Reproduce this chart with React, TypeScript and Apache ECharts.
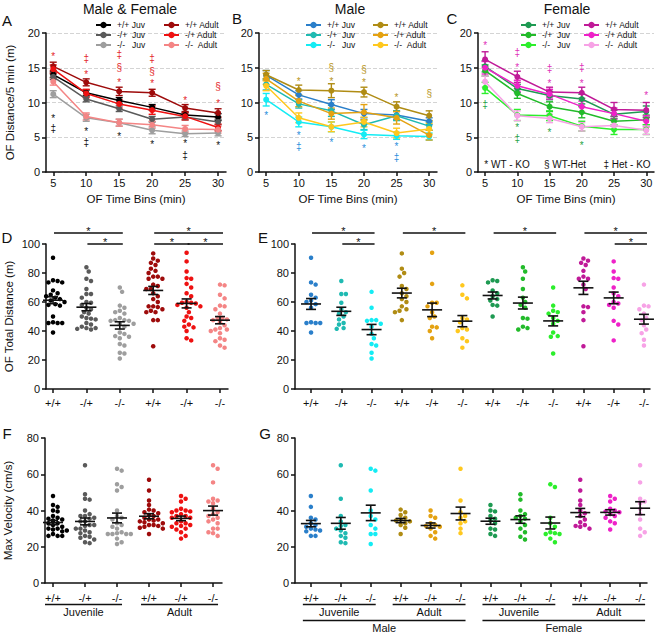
import React, { useEffect, useRef } from 'react';
import * as echarts from 'echarts';

const FONT = '"Liberation Sans", Arial, Helvetica, sans-serif';
const INK = '#111111';
const NB = '\u00a0';

// ---------- categories / labels ----------
const TIMES = [5, 10, 15, 20, 25, 30];
const GENOTYPES = ['+/+', '-/+', '-/-'];
const SYMBOLS = ['*', '§', '‡'];
const LINE_LABELS = ['+/+ Juv', `-/+${NB}${NB}Juv`, `-/-${NB}${NB}${NB}Juv`, '+/+ Adult', '-/+ Adult', `-/-${NB}${NB}Adult`];
const F_GROUP_LABELS = ['Juvenile', 'Adult'];
const G_GROUP_LABELS = ['Juvenile', 'Adult', 'Juvenile', 'Adult', 'Male', 'Female'];

// ---------- colours ----------
const COLORS_ALL = ['#000000', '#5a5a5a', '#9e9e9e', '#9e0b0b', '#ee1111', '#f48585'];
const COLORS_MALE = ['#2a7fca', '#1fbab2', '#14ecf4', '#b08c14', '#e4a212', '#ffc81e'];
const COLORS_FEMALE = ['#1e9a52', '#22bb2a', '#2cee2c', '#c01a98', '#ee22c8', '#f7a2e6'];

// ---------- panel A/B/C: distance per 5-min bin (mean, SEM) ----------
const A_MEANS = [
  [14.0, 11.4, 10.3, 9.3, 8.2, 7.9],
  [13.7, 10.5, 9.1, 7.6, 7.9, 7.2],
  [11.2, 7.8, 7.1, 6.0, 5.5, 5.6],
  [15.2, 12.9, 11.6, 11.4, 9.2, 8.5],
  [14.8, 11.3, 9.8, 8.9, 8.0, 6.4],
  [13.0, 8.0, 7.1, 6.8, 6.2, 6.1],
];
const A_SEMS = [
  [0.4, 0.4, 0.4, 0.4, 0.4, 0.5],
  [0.4, 0.4, 0.4, 0.4, 0.4, 0.4],
  [0.5, 0.5, 0.5, 0.5, 0.4, 0.4],
  [0.6, 0.5, 0.6, 0.5, 0.5, 0.6],
  [0.6, 0.6, 0.6, 0.6, 0.5, 0.5],
  [0.5, 0.5, 0.5, 0.5, 0.5, 0.5],
];
const B_MEANS = [
  [13.9, 11.1, 9.7, 8.4, 8.2, 7.3],
  [12.6, 9.8, 8.8, 6.8, 8.1, 6.6],
  [10.4, 7.2, 6.5, 5.4, 5.2, 5.1],
  [14.0, 11.8, 11.7, 11.5, 9.4, 8.1],
  [13.4, 10.2, 8.4, 8.6, 7.8, 5.3],
  [12.4, 7.8, 6.5, 7.2, 5.6, 6.2],
];
const B_SEMS = [
  [0.7, 0.6, 0.7, 0.6, 0.6, 0.5],
  [0.8, 0.6, 0.8, 0.7, 0.7, 0.6],
  [0.9, 0.7, 0.7, 0.6, 0.5, 0.5],
  [0.6, 0.7, 1.0, 0.7, 0.7, 0.7],
  [0.8, 0.8, 0.8, 1.1, 0.9, 0.7],
  [0.7, 0.7, 0.7, 0.7, 0.7, 0.8],
];
const C_MEANS = [
  [15.2, 12.0, 11.0, 10.5, 8.3, 8.7],
  [14.6, 11.3, 9.4, 8.6, 7.3, 7.5],
  [12.1, 8.2, 8.1, 6.6, 6.1, 6.1],
  [16.2, 13.7, 11.5, 11.4, 9.0, 8.9],
  [15.0, 12.4, 11.2, 9.4, 8.4, 7.3],
  [13.0, 8.1, 7.7, 6.5, 6.7, 6.0],
];
const C_SEMS = [
  [0.8, 0.6, 0.6, 0.7, 0.6, 0.8],
  [0.8, 0.7, 0.7, 0.8, 0.7, 0.7],
  [0.8, 0.8, 0.7, 0.7, 0.7, 0.7],
  [1.1, 0.8, 0.7, 0.8, 1.0, 1.1],
  [0.9, 0.8, 0.7, 0.8, 0.8, 0.8],
  [0.8, 0.7, 0.6, 0.6, 0.6, 0.6],
];

// significance marks: [time, y, symbolIndex]
const A_MARKS_UP = [[5, 17.1, 0], [10, 16.3, 2], [10, 14.5, 0], [15, 16.9, 2], [15, 15.0, 1], [15, 13.3, 0], [20, 16.4, 2], [20, 14.5, 1], [20, 13.1, 0], [25, 10.7, 0], [30, 12.3, 1], [30, 10.3, 0]];
const A_MARKS_DOWN = [[5, 8.1, 0], [5, 6.3, 2], [10, 6.3, 0], [10, 4.2, 2], [15, 5.5, 0], [20, 4.4, 0], [25, 4.5, 0], [25, 2.4, 2], [30, 4.2, 0]];
const B_MARKS_UP = [[10, 13.4, 0], [15, 15.0, 1], [15, 13.5, 0], [20, 14.8, 1], [20, 13.3, 0], [25, 11.2, 0], [30, 11.3, 1]];
const B_MARKS_DOWN = [[5, 8.6, 0], [10, 5.7, 0], [10, 3.7, 2], [15, 4.7, 0], [20, 3.8, 0], [25, 4.1, 0], [25, 2.1, 2]];
const C_MARKS_UP = [[5, 18.6, 0], [10, 17.2, 2], [10, 15.5, 0], [15, 14.9, 2], [15, 13.1, 0], [20, 15.0, 2], [20, 13.2, 0], [30, 11.4, 0]];
const C_MARKS_DOWN = [[5, 9.7, 2], [10, 6.8, 0], [10, 4.8, 2], [15, 6.1, 0], [20, 4.3, 0]];

// ---------- panel E (and D = male ∪ female): total distance per animal ----------
const DIST_MALE = [
  [90.5, 73.5, 72, 65, 63, 61, 60, 58.5, 56, 46, 45.5, 45.5, 45.5, 39],
  [74.5, 65.5, 65.5, 59.5, 55, 53, 52, 50, 48, 45.5, 44.5, 42, 41.5],
  [67, 56, 47.5, 47.5, 47, 45, 43, 38, 35, 31, 30, 25, 21],
  [93.5, 83, 80, 77.5, 71, 69, 66, 64, 62, 60, 57, 55, 54, 53, 47.5],
  [94, 72.5, 59.5, 59.5, 57, 53, 50, 49, 43, 42.5, 40, 35],
  [71.5, 65, 62.5, 49, 48, 46, 42, 41, 40, 35, 33, 28.5],
];
const DIST_FEMALE = [
  [75, 74.5, 73.5, 68, 66, 64, 62, 61, 58, 57.5, 50],
  [84, 81, 76, 69, 63, 60, 58, 56, 49, 48.5, 43, 42, 41],
  [70, 57.5, 54, 53, 52, 49, 47, 45, 39, 36.5, 36, 24.5],
  [90, 88.5, 87, 85.5, 81.5, 77.5, 76, 76, 72, 69, 57, 56.5, 53, 47.5, 29.5],
  [88, 81, 76.5, 76, 70, 66, 64, 60, 59, 58, 56, 47, 44.5, 33.5],
  [72, 57.5, 57, 55, 52, 49, 47.5, 44, 41, 38.5, 34, 30],
];

// ---------- panel G (and F = male ∪ female): max velocity per animal ----------
const VEL_MALE = [
  [48, 42, 36, 35, 33, 32, 31, 30, 29.5, 29, 28.5, 26, 26],
  [65, 46.5, 37, 34, 32, 31.5, 30, 29, 27.5, 26, 25, 22.5, 22],
  [63, 62, 51, 40, 37, 35, 32, 30, 27, 27, 21.5],
  [40.5, 39, 37.5, 36, 35, 34.5, 34, 33, 32, 30.5, 27],
  [40, 37, 36, 33, 32, 31.5, 31, 30, 28, 26, 24.5],
  [63, 45.5, 39, 37, 36, 34, 33, 30, 27.5],
];
const VEL_FEMALE = [
  [43, 40, 39.5, 37, 35.5, 34.5, 33, 30, 29.5, 27, 26],
  [49, 46, 40, 38, 37, 36, 35.5, 34, 32, 30, 28, 25.5, 24],
  [54.5, 53, 36, 33, 31, 28, 27.5, 27, 27, 24.5, 22.5],
  [57, 51, 45.5, 43, 40, 38.5, 37, 35, 33.5, 32, 31.5, 31, 30],
  [48, 46.5, 45, 41, 40, 39.5, 39, 38, 37, 36, 34, 33, 29.5],
  [65, 55.5, 46.5, 45, 44, 41, 38, 35, 30, 28, 26],
];

// comparisons: [groupFrom, groupTo, level(0 = upper, 1 = lower)]
const D_BRACKETS = [[0, 2, 0], [1, 2, 1], [3, 5, 0], [3, 4, 1], [4, 5, 1]];
const E_BRACKETS = [[0, 2, 0], [1, 2, 1], [3, 5, 0], [6, 8, 0], [9, 11, 0], [10, 11, 1]];
// group underlines: [groupFrom, groupTo, row]
const F_GROUPS = [[0, 2, 0], [3, 5, 0]];
const G_GROUPS = [[0, 2, 0], [3, 5, 0], [6, 8, 0], [9, 11, 0], [0, 5, 1], [6, 11, 1]];

// ---------- helpers ----------
function meanSem(vals: number[]) {
  const n = vals.length;
  const m = vals.reduce((a, b) => a + b, 0) / n;
  const v = vals.reduce((a, b) => a + (b - m) * (b - m), 0) / (n - 1);
  return [m, Math.sqrt(v / n)];
}

// deterministic beeswarm: returns x offsets in category units
function swarm(vals: number[], pxX: number, pxY: number, d: number): number[] {
  const idx = vals.map((_, i) => i).sort((a, b) => vals[b] - vals[a]);
  const placed: number[][] = [];
  const offs = new Array(vals.length).fill(0);
  for (const i of idx) {
    const py = vals[i] * pxY;
    let chosen = 0;
    for (let k = 0; k < 60; k++) {
      const cand = k === 0 ? 0 : (k % 2 === 1 ? 1 : -1) * Math.ceil(k / 2) * d * 0.5;
      let ok = true;
      for (const p of placed) {
        const dx = p[0] - cand;
        const dy = p[1] - py;
        if (dx * dx + dy * dy < d * d * 0.92) { ok = false; break; }
      }
      if (ok) { chosen = cand; break; }
    }
    placed.push([chosen, py]);
    offs[i] = chosen / pxX;
  }
  return offs;
}

const axisLineStyle = { color: INK, width: 1.5 };

function timeXAxis(gi: number) {
  return {
    type: 'value', gridIndex: gi, min: 3.9, max: 31.2,
    axisLine: { show: true, onZero: false, lineStyle: axisLineStyle },
    axisTick: { show: true, customValues: TIMES, length: 4, lineStyle: axisLineStyle },
    axisLabel: { customValues: TIMES, fontSize: 11, color: INK, margin: 5, fontFamily: FONT },
    splitLine: { show: false },
    name: 'OF Time Bins (min)', nameLocation: 'middle', nameGap: 21,
    nameTextStyle: { fontSize: 11.5, color: INK, fontFamily: FONT },
  };
}
function distYAxis(gi: number, name?: string) {
  return {
    type: 'value', gridIndex: gi, min: 0, max: 20, interval: 5,
    axisLine: { show: true, onZero: false, lineStyle: axisLineStyle },
    axisTick: { show: true, length: 4, lineStyle: axisLineStyle },
    axisLabel: { fontSize: 11, color: INK, margin: 6, fontFamily: FONT },
    splitLine: { show: true, lineStyle: { type: 'dashed', color: '#d4d4d4', width: 1 } },
    name: name || '', nameLocation: 'middle', nameGap: 30,
    nameTextStyle: { fontSize: 11.5, color: INK, fontFamily: FONT },
  };
}
function groupXAxis(gi: number, min: number, max: number, n: number, margin: number) {
  const vals = Array.from({ length: n }, (_, i) => i);
  return {
    type: 'value', gridIndex: gi, min, max,
    axisLine: { show: true, onZero: false, lineStyle: axisLineStyle },
    axisTick: { show: true, customValues: vals, length: 4, lineStyle: axisLineStyle },
    axisLabel: {
      customValues: vals, fontSize: 11, color: INK, margin, fontFamily: FONT,
      formatter: (v: number) => GENOTYPES[Math.round(v) % 3],
    },
    splitLine: { show: false },
  };
}
function groupYAxis(gi: number, max: number, name?: string) {
  return {
    type: 'value', gridIndex: gi, min: 0, max, interval: 20,
    axisLine: { show: true, onZero: false, lineStyle: axisLineStyle },
    axisTick: { show: true, length: 4, lineStyle: axisLineStyle },
    axisLabel: { fontSize: 11, color: INK, margin: 6, fontFamily: FONT },
    splitLine: { show: false },
    name: name || '', nameLocation: 'middle', nameGap: 31,
    nameTextStyle: { fontSize: 11.5, color: INK, fontFamily: FONT },
  };
}

function errRender(color: string) {
  return (_p: any, api: any) => {
    const x = api.value(0), m = api.value(1), s = api.value(2);
    const t = api.coord([x, m + s]);
    const b = api.coord([x, m - s]);
    const style = { stroke: color, lineWidth: 1.4 };
    const cw = 3.5;
    return {
      type: 'group', children: [
        { type: 'line', shape: { x1: t[0], y1: t[1], x2: b[0], y2: b[1] }, style },
        { type: 'line', shape: { x1: t[0] - cw, y1: t[1], x2: t[0] + cw, y2: t[1] }, style },
        { type: 'line', shape: { x1: b[0] - cw, y1: b[1], x2: b[0] + cw, y2: b[1] }, style },
      ],
    };
  };
}
function markRender(color: string) {
  return (_p: any, api: any) => {
    const k = api.value(2);
    const p = api.coord([api.value(0), api.value(1)]);
    return {
      type: 'text', x: p[0], y: p[1] + (k === 0 ? 3 : 0),
      style: { text: SYMBOLS[k], fill: color, fontSize: 10, fontFamily: FONT, align: 'center', verticalAlign: 'middle' },
    };
  };
}
const meanRender = (_p: any, api: any) => {
  const i = api.value(0), m = api.value(1), s = api.value(2);
  const c = api.coord([i, m]);
  const t = api.coord([i, m + s]);
  const b = api.coord([i, m - s]);
  const style = { stroke: INK, lineWidth: 1.6 };
  const hw = 10, cw = 5;
  return {
    type: 'group', children: [
      { type: 'line', shape: { x1: c[0] - hw, y1: c[1], x2: c[0] + hw, y2: c[1] }, style },
      { type: 'line', shape: { x1: t[0], y1: t[1], x2: b[0], y2: b[1] }, style },
      { type: 'line', shape: { x1: t[0] - cw, y1: t[1], x2: t[0] + cw, y2: t[1] }, style },
      { type: 'line', shape: { x1: b[0] - cw, y1: b[1], x2: b[0] + cw, y2: b[1] }, style },
    ],
  };
};
const bracketRender = (_p: any, api: any) => {
  const a = api.value(0), b = api.value(1), lvl = api.value(2);
  const pa = api.coord([a, 100]);
  const pb = api.coord([b, 100]);
  const y = pa[1] - (lvl === 0 ? 11 : 0);
  const x1 = pa[0] + 1, x2 = pb[0] + 3;
  return {
    type: 'group', children: [
      { type: 'line', shape: { x1, y1: y, x2, y2: y }, style: { stroke: INK, lineWidth: 1.5 } },
      { type: 'text', x: (x1 + x2) / 2, y: y - 2, style: { text: '*', fill: INK, fontSize: 11, fontFamily: FONT, align: 'center', verticalAlign: 'middle' } },
    ],
  };
};
function groupRender(labels: string[]) {
  return (p: any, api: any) => {
    const a = api.value(0), b = api.value(1), row = api.value(2);
    const pa = api.coord([a, 0]);
    const pb = api.coord([b, 0]);
    const ly = pa[1] + 21.5 + row * 16;
    const x1 = pa[0] - 8, x2 = pb[0] + 5;
    return {
      type: 'group', children: [
        { type: 'line', shape: { x1, y1: ly, x2, y2: ly }, style: { stroke: INK, lineWidth: 1.5 } },
        { type: 'text', x: (x1 + x2) / 2, y: ly + 7, style: { text: labels[p.dataIndex], fill: INK, fontSize: 11, fontFamily: FONT, align: 'center', verticalAlign: 'middle' } },
      ],
    };
  };
}

function buildOption() {
  const series: any[] = [];
  const legends: any[] = [];

  const linePanels = [
    { key: 'A', gi: 0, means: A_MEANS, sems: A_SEMS, colors: COLORS_ALL, marks: [{ c: '#e4262a', d: A_MARKS_UP }, { c: INK, d: A_MARKS_DOWN }], lx: [95, 163] },
    { key: 'B', gi: 1, means: B_MEANS, sems: B_SEMS, colors: COLORS_MALE, marks: [{ c: '#b8961e', d: B_MARKS_UP }, { c: '#2a8fdc', d: B_MARKS_DOWN }], lx: [305, 372] },
    { key: 'C', gi: 2, means: C_MEANS, sems: C_SEMS, colors: COLORS_FEMALE, marks: [{ c: '#e030b8', d: C_MARKS_UP }, { c: '#26a348', d: C_MARKS_DOWN }], lx: [520, 583] },
  ];
  linePanels.forEach((P) => {
    P.means.forEach((row, s) => {
      series.push({
        type: 'custom', name: `${P.key}|err${s}`, xAxisIndex: P.gi, yAxisIndex: P.gi, silent: true, clip: false,
        data: TIMES.map((t, k) => [t, row[k], P.sems[s][k]]), renderItem: errRender(P.colors[s]), z: 2,
      });
      series.push({
        type: 'line', name: `${P.key}|${LINE_LABELS[s]}`, xAxisIndex: P.gi, yAxisIndex: P.gi,
        data: TIMES.map((t, k) => [t, row[k]]), symbol: 'circle', symbolSize: 6, showSymbol: true,
        lineStyle: { width: 1.5, color: P.colors[s] }, itemStyle: { color: P.colors[s] }, color: P.colors[s], z: 3,
      });
    });
    P.marks.forEach((m) => {
      series.push({
        type: 'custom', name: `${P.key}|marks`, xAxisIndex: P.gi, yAxisIndex: P.gi, silent: true, clip: false,
        data: m.d, renderItem: markRender(m.c), z: 4,
      });
    });
    [0, 1].forEach((col) => {
      legends.push({
        orient: 'vertical', left: P.lx[col], top: 20, padding: 0, itemGap: 0, itemWidth: 15, itemHeight: 8,
        selectedMode: false,
        data: [0, 1, 2].map((r) => `${P.key}|${LINE_LABELS[col * 3 + r]}`),
        formatter: (n: string) => n.split('|')[1],
        textStyle: { fontSize: 8.5, lineHeight: 10, color: INK, fontFamily: FONT, padding: [0, 0, 0, 1] },
      });
    });
  });

  const E_GROUPS = [...DIST_MALE, ...DIST_FEMALE];
  const D_GROUPS = DIST_MALE.map((a, i) => a.concat(DIST_FEMALE[i]));
  const G_VALS = [...VEL_MALE, ...VEL_FEMALE];
  const F_VALS = VEL_MALE.map((a, i) => a.concat(VEL_FEMALE[i]));
  const SEX_COLORS = [...COLORS_MALE, ...COLORS_FEMALE];

  const scatterPanels = [
    { key: 'D', gi: 3, groups: D_GROUPS, colors: COLORS_ALL, pxX: 33.4, pxY: 1.45 },
    { key: 'E', gi: 4, groups: E_GROUPS, colors: SEX_COLORS, pxX: 30.3, pxY: 1.45 },
    { key: 'F', gi: 5, groups: F_VALS, colors: COLORS_ALL, pxX: 32, pxY: 1.81 },
    { key: 'G', gi: 6, groups: G_VALS, colors: SEX_COLORS, pxX: 29.9, pxY: 1.81 },
  ];
  scatterPanels.forEach((P) => {
    P.groups.forEach((vals, g) => {
      const offs = swarm(vals, P.pxX, P.pxY, 4.6);
      series.push({
        type: 'scatter', name: `${P.key}|pts${g}`, xAxisIndex: P.gi, yAxisIndex: P.gi, silent: true,
        data: vals.map((v, i) => [g + offs[i], v]), symbol: 'circle', symbolSize: 4.5,
        itemStyle: { color: P.colors[g], opacity: 1 }, z: 2,
      });
    });
    series.push({
      type: 'custom', name: `${P.key}|mean`, xAxisIndex: P.gi, yAxisIndex: P.gi, silent: true, clip: false,
      data: P.groups.map((vals, g) => { const ms = meanSem(vals); return [g, ms[0], ms[1]]; }),
      renderItem: meanRender, z: 5,
    });
  });

  series.push({ type: 'custom', name: 'D|br', xAxisIndex: 3, yAxisIndex: 3, silent: true, clip: false, data: D_BRACKETS, renderItem: bracketRender, z: 5 });
  series.push({ type: 'custom', name: 'E|br', xAxisIndex: 4, yAxisIndex: 4, silent: true, clip: false, data: E_BRACKETS, renderItem: bracketRender, z: 5 });
  series.push({ type: 'custom', name: 'F|grp', xAxisIndex: 5, yAxisIndex: 5, silent: true, clip: false, data: F_GROUPS, renderItem: groupRender(F_GROUP_LABELS), z: 5 });
  series.push({ type: 'custom', name: 'G|grp', xAxisIndex: 6, yAxisIndex: 6, silent: true, clip: false, data: G_GROUPS, renderItem: groupRender(G_GROUP_LABELS), z: 5 });

  const txt = (text: string, x: number, y: number, size: number, align = 'center') => ({
    type: 'text', x, y, silent: true,
    style: { text, fill: INK, fontSize: size, fontFamily: FONT, align, verticalAlign: 'middle' },
  });

  return {
    animation: false,
    backgroundColor: '#ffffff',
    textStyle: { fontFamily: FONT },
    grid: [
      { left: 46, top: 33, width: 180, height: 139 },
      { left: 259, top: 33, width: 178, height: 139 },
      { left: 478, top: 33, width: 176, height: 139 },
      { left: 46, top: 244, width: 182, height: 145 },
      { left: 295, top: 244, width: 355, height: 145 },
      { left: 45, top: 438, width: 177, height: 145 },
      { left: 295, top: 438, width: 352, height: 145 },
    ],
    xAxis: [
      timeXAxis(0), timeXAxis(1), timeXAxis(2),
      groupXAxis(3, -0.21, 5.24, 6, 8),
      groupXAxis(4, -0.53, 11.2, 12, 8),
      groupXAxis(5, -0.25, 5.28, 6, 9),
      groupXAxis(6, -0.53, 11.23, 12, 9),
    ],
    yAxis: [
      distYAxis(0, 'OF Distance/5 min (m)'), distYAxis(1), distYAxis(2),
      groupYAxis(3, 100, 'OF Total Distance (m)'),
      groupYAxis(4, 100),
      groupYAxis(5, 80, 'Max Velocity (cm/s)'),
      groupYAxis(6, 80),
    ],
    legend: legends,
    graphic: [
      txt('Male & Female', 130, 9, 14),
      txt('Male', 350, 9, 14),
      txt('Female', 567, 9, 14),
      txt('A', 7, 20, 15),
      txt('B', 237, 18, 15),
      txt('C', 452, 18, 15),
      txt('D', 7, 237, 15),
      txt('E', 263, 237, 15),
      txt('F', 7, 433, 15),
      txt('G', 265, 433, 15),
      txt('* WT - KO', 507, 164, 10),
      txt('§ WT-Het', 565, 164, 10),
      txt('‡ Het - KO', 627, 164, 10),
    ],
    series,
  };
}

export default function App() {
  const ref = useRef<HTMLDivElement>(null);
  useEffect(() => {
    document.body.style.margin = '0';
    if (!ref.current) return;
    const chart = echarts.init(ref.current, undefined, { renderer: 'svg' });
    chart.setOption(buildOption() as any);
    return () => chart.dispose();
  }, []);
  return <div ref={ref} style={{ width: 661, height: 635 }} />;
}
